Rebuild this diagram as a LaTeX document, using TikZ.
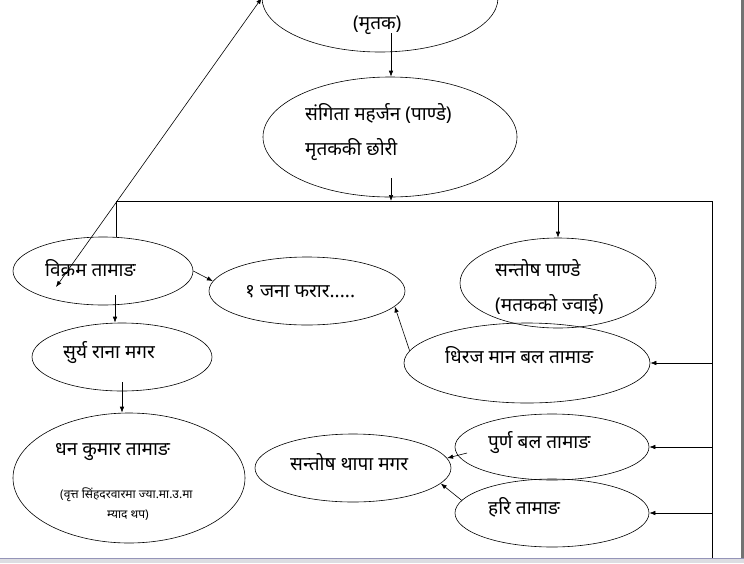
\documentclass[tikz,border=0pt]{standalone}
\usepackage{fontspec}
\setmainfont{Noto Sans}[Script=Devanagari]
\usetikzlibrary{shapes.geometric,arrows.meta}

\begin{document}
\begin{tikzpicture}[x=1pt,y=-1pt,
      person/.style={draw,ellipse,inner sep=0pt,line width=0.6pt},
      arr/.style={-{Latex[length=6pt,width=4.5pt]},line width=0.6pt},
      wire/.style={line width=0.6pt},
      pname/.style={anchor=west,inner sep=0pt,font=\fontsize{19}{21}\selectfont},
      pnote/.style={anchor=west,inner sep=0pt,font=\fontsize{12}{14}\selectfont}]
   \useasboundingbox (0,0) rectangle (744,563);
   \clip (0,0) rectangle (744,563);

   % window frame
   \fill[black!55] (741,0) rectangle (744,558);
   \fill[blue!8!gray!25] (0,558) rectangle (744,563);
   \draw[blue!20!gray!70,line width=0.8pt] (0,558) -- (744,558);

   % ellipses
   \node[person,minimum width=236,minimum height=108] (mritak) at (380,-2) {};
   \node[person,minimum width=254,minimum height=120] (sangita) at (390,137) {};
   \node[person,minimum width=180,minimum height=68] (bikram) at (103,271) {};
   \node[person,minimum width=196,minimum height=68] (farar) at (307,291) {};
   \node[person,minimum width=196,minimum height=90] (pande) at (558,283) {};
   \node[person,minimum width=246,minimum height=80] (dhiraj) at (527,363) {};
   \node[person,minimum width=180,minimum height=68] (surya) at (122,357) {};
   \node[person,minimum width=232,minimum height=130] (dhan) at (129,478) {};
   \node[person,minimum width=196,minimum height=68] (thapa) at (353,468) {};
   \node[person,minimum width=194,minimum height=66] (purna) at (552,447) {};
   \node[person,minimum width=194,minimum height=68] (hari) at (552,513) {};

   % texts
   \node[pname] (mritaktxt) at (353,25) {(मृतक)};
   \node[pname] (sangitatxt) at (305,113) {संगिता महर्जन (पाण्डे)};
   \node[pname] (sangitarel) at (305,150) {मृतककी छोरी};
   \node[pname] (bikramtxt) at (45,268) {विक्रम तामाङ};
   \node[pname] (farartxt) at (245,292) {१ जना फरार.....};
   \node[pname] (pandetxt) at (495,268) {सन्तोष पाण्डे};
   \node[pname] (panderel) at (495,305) {(मतकको ज्वाई)};
   \node[pname] (dhirajtxt) at (445,355) {धिरज मान बल तामाङ};
   \node[pname] (suryatxt) at (63,353) {सुर्य राना मगर};
   \node[pname] (dhantxt) at (55,452) {धन कुमार तामाङ};
   \node[pnote] (dhannote) at (60,495) {(वृत्त सिंहदरवारमा ज्या.मा.उ.मा};
   \node[pnote] (dhannote2) at (107,515) {म्याद थप)};
   \node[pname] (thapatxt) at (290,462) {सन्तोष थापा मगर};
   \node[pname] (purnatxt) at (488,443) {पुर्ण बल तामाङ};
   \node[pname] (haritxt) at (488,507) {हरि तामाङ};

   % bus
   \coordinate (busL) at (116,201);
   \coordinate (busR) at (712,201);
   \coordinate (busB) at (712,558);
   \draw[wire] (busL |- bikram.north) -- (busL) -- (busR) -- (busB);

   \coordinate (m1) at (391,33);
   \coordinate (s1) at (391,178);
   \coordinate (b1) at (115,295);
   \coordinate (su1) at (122,382);
   \coordinate (vik) at (56,287);
   \coordinate (p1) at (467,453);

   \draw[arr] (m1) -- (m1 |- sangita.north);
   \draw[arr] (s1) -- (s1 |- busL);
   \draw[arr] (pande.north |- busL) -- (pande.north);
   \draw[arr] (dhiraj.east -| busR) -- (dhiraj.east);
   \draw[arr] (purna.east -| busR) -- (purna.east);
   \draw[arr] (hari.east -| busR) -- (hari.east);

   \draw[arr,{Latex[length=6pt,width=4.5pt]}-{Latex[length=6pt,width=4.5pt]}] (vik) -- (mritak.west);
   \draw[arr] (bikram.east) -- (farar.174);
   \draw[arr] (b1) -- (b1 |- surya.north);
   \draw[arr] (su1) -- (su1 |- dhan.north);
   \draw[arr] (dhiraj.174) -- (farar.-10);
   \draw[arr] (p1) -- (thapa.6);
   \draw[arr] (hari.172) -- (thapa.-10);

\end{tikzpicture}
\end{document}
